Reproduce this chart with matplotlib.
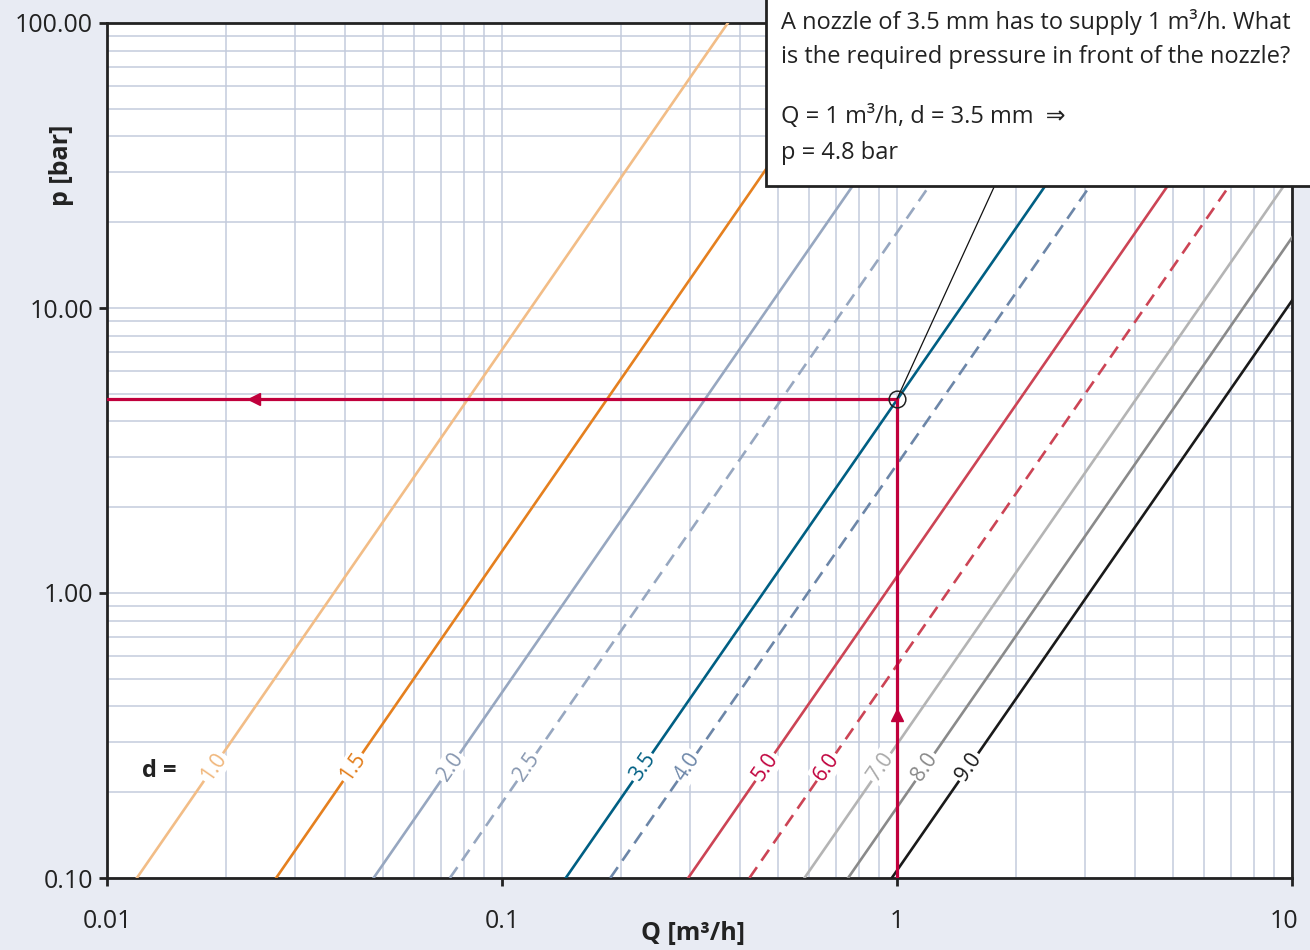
import numpy as np
import matplotlib
matplotlib.use("Agg")
import matplotlib.pyplot as plt
import matplotlib.patches as patches
import matplotlib.transforms as mtransforms

plt.rcParams['font.family'] = ['Open Sans', 'DejaVu Sans']

diameters = ["1.0", "1.5", "2.0", "2.5", "3.5", "4.0", "5.0", "6.0", "7.0", "8.0", "9.0"]
q_at_p_low = [0.0119, 0.0268, 0.0473, 0.0738, 0.145, 0.188, 0.296, 0.423, 0.583, 0.752, 0.97]
q_at_p_high = [0.373, 0.84, 1.49, 2.33, 4.58, 5.95, 9.35, 13.4, 18.4, 23.8, 30.7]
p_low, p_high = 0.1, 100.0

line_colors = ['#f2bd87', '#e5801f', '#97a7c0', '#97a7c0', '#005f83', '#6c86a8',
               '#cc4455', '#cc4455', '#b4b4b4', '#8a8a8a', '#1a1a1a']
label_colors = ['#f0b67a', '#e27a15', '#8797b0', '#8797b0', '#005f83', '#6c86a8',
                '#c0003c', '#c0003c', '#a8a8a8', '#888888', '#1a1a1a']
dashed = ["2.5", "4.0", "6.0"]
label_p = 0.245

# worked example
ex_q, ex_p = 1.0, 4.8
leader_end = (1.77, 27.0)

fig = plt.figure(figsize=(13.1, 9.5), dpi=100, facecolor='#e8ebf3')
ax = fig.add_axes([107 / 1310, 72 / 950, 1185 / 1310, 855 / 950], facecolor='white')
ax.set_xscale('log')
ax.set_yscale('log')
ax.set_xlim(0.01, 10)
ax.set_ylim(0.1, 100)

ax.grid(True, which='both', color='#c3cbdc', linewidth=1.1)
ax.set_axisbelow(True)
for s in ax.spines.values():
    s.set_linewidth(2)
    s.set_color('#222222')

ax.set_xticks([0.01, 0.1, 1, 10])
ax.set_xticklabels(['0.01', '0.1', '1', '10'])
ax.set_yticks([0.1, 1, 10, 100])
ax.set_yticklabels(['0.10', '1.00', '10.00', '100.00'])
ax.tick_params(which='major', length=6, width=2, color='#222222', labelsize=18,
               labelcolor='#222222', pad=16)
ax.tick_params(axis='y', pad=4)
ax.tick_params(which='minor', length=0)

# pull the last x label in so it stays inside the picture
last = ax.get_xticklabels()[-1]
last.set_transform(last.get_transform() + mtransforms.ScaledTranslation(-8 / 100, 0, fig.dpi_scale_trans))

fig.canvas.draw()
for d, q0, q1, lc, tc in zip(diameters, q_at_p_low, q_at_p_high, line_colors, label_colors):
    ls = (0, (5, 3)) if d in dashed else '-'
    ax.plot([q0, q1], [p_low, p_high], color=lc, lw=1.9, ls=ls, zorder=3)
    # label placed on the line at p = label_p
    ql = q0 * np.exp(np.log(q1 / q0) * np.log(label_p / p_low) / np.log(p_high / p_low))
    a = ax.transData.transform([q0, p_low])
    b = ax.transData.transform([q1, p_high])
    ang = np.degrees(np.arctan2(b[1] - a[1], b[0] - a[0]))
    ax.text(ql, label_p, d, color=tc, fontsize=15, rotation=ang, rotation_mode='anchor',
            ha='center', va='center', zorder=4,
            bbox=dict(boxstyle='square,pad=0.1', fc='white', ec='none'))

ax.text(0.01225, label_p * 0.97, 'd =', fontsize=17, fontweight='bold', color='#222222',
        ha='left', va='center')

# red guide lines
red = '#c0003c'
ax.plot([0.01, ex_q], [ex_p, ex_p], color=red, lw=2.3, zorder=5)
ax.plot([ex_q, ex_q], [0.1, ex_p], color=red, lw=2.3, zorder=5)
ax.plot([0.0236], [ex_p], marker='<', color=red, markersize=9, zorder=6)
ax.plot([ex_q], [0.373], marker='^', color=red, markersize=9, zorder=6)
ax.plot([ex_q, leader_end[0]], [ex_p, leader_end[1]], color='#111111', lw=0.9, zorder=6)
ax.plot([ex_q], [ex_p], marker='o', ms=12, mfc='none', mec='#222222', mew=1.1, zorder=7)

# axis titles
fig.text(62 / 1310, 1 - 165 / 950, 'p [bar]', rotation=90, fontsize=18, fontweight='bold',
         color='#222222', ha='center', va='center')
fig.text(693 / 1310, 1 - 933 / 950, 'Q [m³/h]', fontsize=18, fontweight='bold',
         color='#222222', ha='center', va='center')

# question box, running off the right edge as in the original
box = patches.Rectangle((766 / 1310, 1 - 186 / 950), 0.5, 0.3, transform=fig.transFigure,
                        fc='white', ec='#222222', lw=2, zorder=10)
fig.patches.append(box)
tx = 781 / 1310
fig.text(tx, 1 - 22 / 950, 'A nozzle of 3.5 mm has to supply 1 m³/h. What', fontsize=17,
         color='#222222', va='center', zorder=11)
fig.text(tx, 1 - 57 / 950, 'is the required pressure in front of the nozzle?', fontsize=17,
         color='#222222', va='center', zorder=11)
fig.text(tx, 1 - 117 / 950, 'Q = 1 m³/h, d = 3.5 mm  ⇒', fontsize=17,
         color='#222222', va='center', zorder=11)
fig.text(tx, 1 - 153 / 950, 'p = 4.8 bar', fontsize=17,
         color='#222222', va='center', zorder=11)

fig.savefig('out.png', dpi=100, facecolor=fig.get_facecolor())
